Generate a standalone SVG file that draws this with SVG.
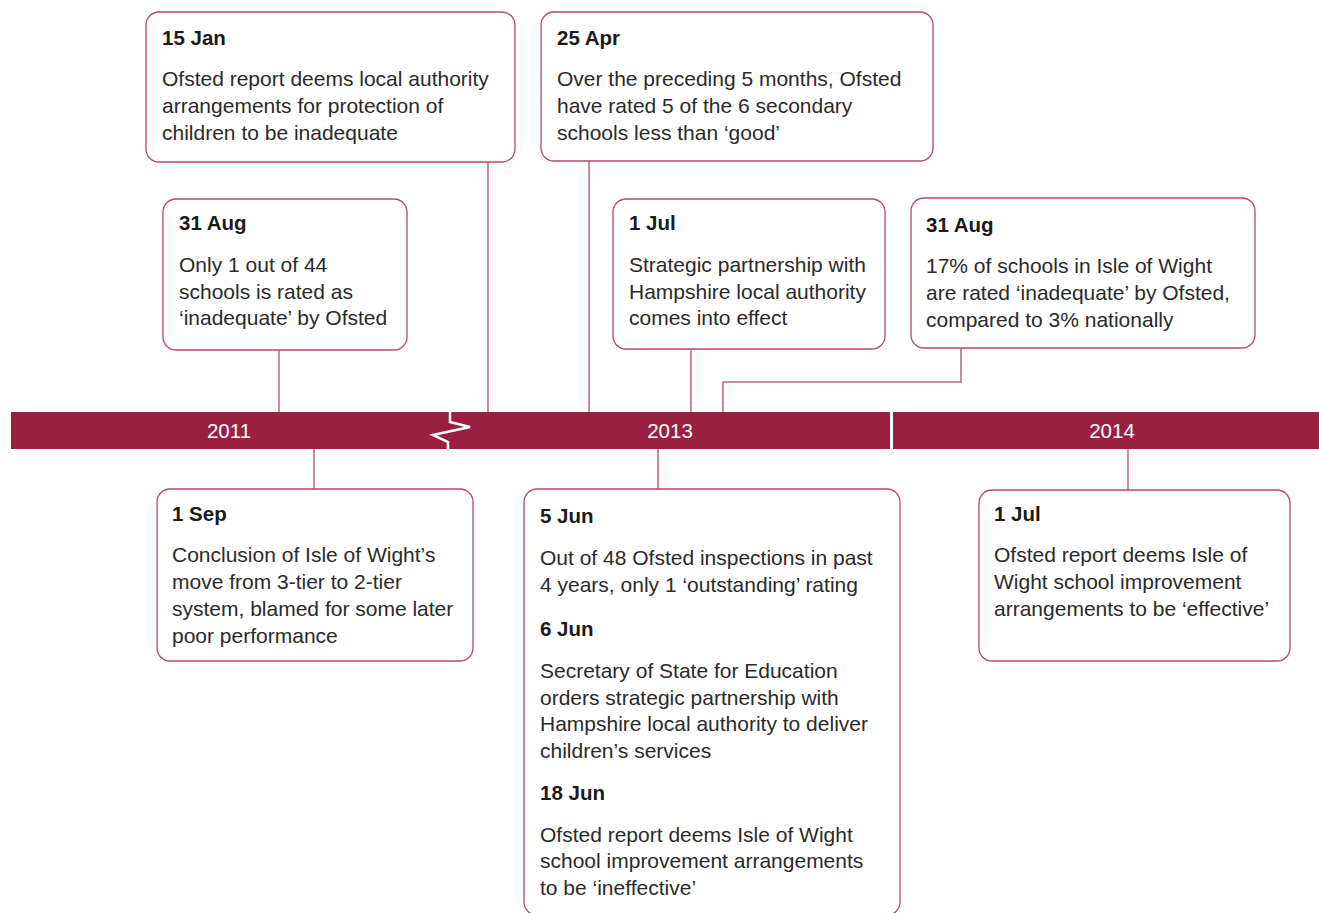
<svg xmlns="http://www.w3.org/2000/svg" width="1319" height="913" viewBox="0 0 1319 913">
<style>
.box{fill:#fff;stroke:#b84a63;stroke-width:1.3}
.con{fill:none;stroke:#c0647a;stroke-width:1.5}
.t{font-family:"Liberation Sans",Arial,sans-serif;font-size:20.5px;font-weight:bold;fill:#1a1a1a}
.b{font-family:"Liberation Sans",Arial,sans-serif;font-size:21px;fill:#2a2a2a}
.y{font-family:"Liberation Sans",Arial,sans-serif;font-size:20.5px;fill:#fff;text-anchor:middle}
</style>
<rect width="1319" height="913" fill="#fff"/>
<g id="connectors">
<path class="con" d="M488 162V412"/>
<path class="con" d="M589 161V412"/>
<path class="con" d="M279 350V412"/>
<path class="con" d="M691 349V412"/>
<path class="con" d="M961 348V382H723V412"/>
<path class="con" d="M314 449V489"/>
<path class="con" d="M658 449V489"/>
<path class="con" d="M1128 449V490"/>
</g>
<g id="timeline">
<rect x="11" y="412" width="879" height="37" fill="#9b203f"/>
<rect x="893" y="412" width="426" height="37" fill="#9b203f"/>
<path d="M450 412V422L470 427L433 435L448 442V449" fill="none" stroke="#fff" stroke-width="2.5"/>
<text class="y" x="229" y="438">2011</text>
<text class="y" x="670" y="438">2013</text>
<text class="y" x="1112" y="438">2014</text>
</g>
<g id="n-15jan">
<rect class="box" x="146" y="12" width="369" height="150" rx="13"/>
<text class="t" x="162" y="45">15 Jan</text>
<text class="b" x="162" y="86">Ofsted report deems local authority</text>
<text class="b" x="162" y="113">arrangements for protection of</text>
<text class="b" x="162" y="140">children to be inadequate</text>
</g>
<g id="n-25apr">
<rect class="box" x="541" y="12" width="392" height="149" rx="13"/>
<text class="t" x="557" y="45">25 Apr</text>
<text class="b" x="557" y="86">Over the preceding 5 months, Ofsted</text>
<text class="b" x="557" y="113">have rated 5 of the 6 secondary</text>
<text class="b" x="557" y="140">schools less than ‘good’</text>
</g>
<g id="n-31aug-2011">
<rect class="box" x="163" y="199" width="244" height="151" rx="13"/>
<text class="t" x="179" y="230">31 Aug</text>
<text class="b" x="179" y="272">Only 1 out of 44</text>
<text class="b" x="179" y="299">schools is rated as</text>
<text class="b" x="179" y="325">‘inadequate’ by Ofsted</text>
</g>
<g id="n-1jul-2013">
<rect class="box" x="613" y="199" width="272" height="150" rx="13"/>
<text class="t" x="629" y="230">1 Jul</text>
<text class="b" x="629" y="272">Strategic partnership with</text>
<text class="b" x="629" y="299">Hampshire local authority</text>
<text class="b" x="629" y="325">comes into effect</text>
</g>
<g id="n-31aug-2013">
<rect class="box" x="911" y="198" width="344" height="150" rx="13"/>
<text class="t" x="926" y="232">31 Aug</text>
<text class="b" x="926" y="273">17% of schools in Isle of Wight</text>
<text class="b" x="926" y="300">are rated ‘inadequate’ by Ofsted,</text>
<text class="b" x="926" y="327">compared to 3% nationally</text>
</g>
<g id="n-1sep">
<rect class="box" x="157" y="489" width="316" height="172" rx="13"/>
<text class="t" x="172" y="521">1 Sep</text>
<text class="b" x="172" y="562">Conclusion of Isle of Wight’s</text>
<text class="b" x="172" y="589">move from 3-tier to 2-tier</text>
<text class="b" x="172" y="616">system, blamed for some later</text>
<text class="b" x="172" y="643">poor performance</text>
</g>
<g id="n-jun-2013">
<rect class="box" x="524" y="489" width="376" height="426" rx="13"/>
<text class="t" x="540" y="523">5 Jun</text>
<text class="b" x="540" y="565">Out of 48 Ofsted inspections in past</text>
<text class="b" x="540" y="592">4 years, only 1 ‘outstanding’ rating</text>
<text class="t" x="540" y="636">6 Jun</text>
<text class="b" x="540" y="678">Secretary of State for Education</text>
<text class="b" x="540" y="705">orders strategic partnership with</text>
<text class="b" x="540" y="731">Hampshire local authority to deliver</text>
<text class="b" x="540" y="758">children’s services</text>
<text class="t" x="540" y="800">18 Jun</text>
<text class="b" x="540" y="842">Ofsted report deems Isle of Wight</text>
<text class="b" x="540" y="868">school improvement arrangements</text>
<text class="b" x="540" y="895">to be ‘ineffective’</text>
</g>
<g id="n-1jul-2014">
<rect class="box" x="979" y="490" width="311" height="171" rx="13"/>
<text class="t" x="994" y="521">1 Jul</text>
<text class="b" x="994" y="562">Ofsted report deems Isle of</text>
<text class="b" x="994" y="589">Wight school improvement</text>
<text class="b" x="994" y="616">arrangements to be ‘effective’</text>
</g>
</svg>
